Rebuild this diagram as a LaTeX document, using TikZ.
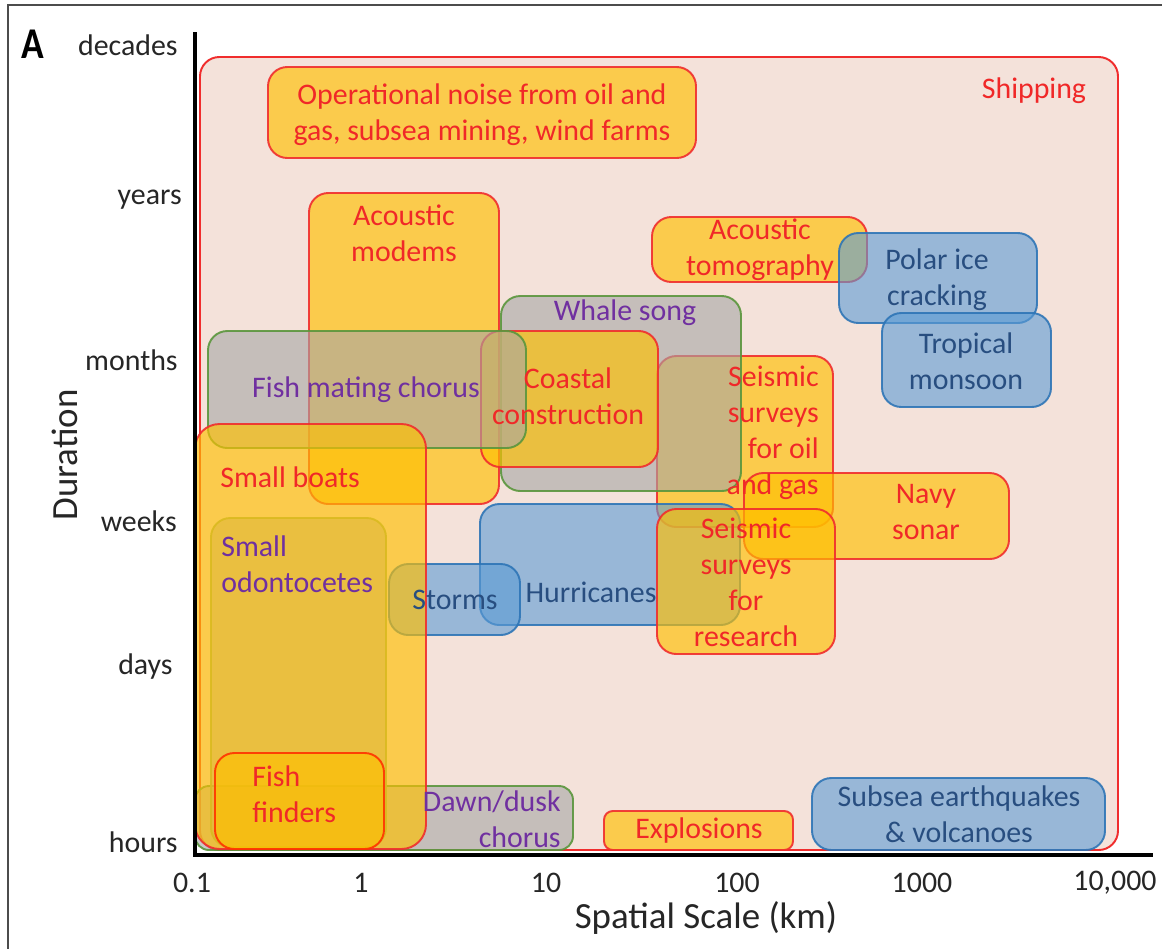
\documentclass[tikz,border=0pt]{standalone}
\usepackage{fontspec}
\setmainfont{Carlito}
\definecolor{pinkfill}{RGB}{244,226,218}
\definecolor{yel}{RGB}{255,192,0}
\definecolor{gry}{RGB}{166,166,166}
\definecolor{blu}{RGB}{91,155,213}
\definecolor{redline}{RGB}{240,45,45}
\definecolor{grnline}{RGB}{90,150,60}
\definecolor{oliveline}{RGB}{150,175,90}
\definecolor{bluline}{RGB}{46,117,182}
\definecolor{redtxt}{RGB}{240,40,40}
\definecolor{purptxt}{RGB}{112,48,160}
\definecolor{blutxt}{RGB}{40,78,128}
\definecolor{axtxt}{RGB}{38,38,38}
\begin{document}
\begin{tikzpicture}[x=0.02cm,y=-0.02cm,
  every node/.style={inner sep=0pt},
  shipbox/.style={draw=redline,line width=1.1pt,fill=pinkfill,rounded corners=11pt},
  ybox/.style={draw=redline,line width=1.1pt,draw opacity=0.9,fill=yel,fill opacity=0.65,rounded corners=11pt},
  gbox/.style={draw=grnline,line width=1.1pt,draw opacity=0.9,fill=gry,fill opacity=0.6,rounded corners=11pt},
  obox/.style={draw=oliveline,line width=1.1pt,draw opacity=0.9,fill=gry,fill opacity=0.6,rounded corners=11pt},
  bbox/.style={draw=bluline,line width=1.1pt,draw opacity=0.9,fill=blu,fill opacity=0.6,rounded corners=11pt},
  lbl/.style={font=\fontsize{17}{20.5}\selectfont,align=center},
  rt/.style={lbl,text=redtxt},
  pt/.style={lbl,text=purptxt},
  bt/.style={lbl,text=blutxt},
  axl/.style={font=\fontsize{17}{20.5}\selectfont,text=axtxt},
  axtitle/.style={font=\fontsize{21}{25}\selectfont,text=axtxt}]
\useasboundingbox (0,0) rectangle (1162,948);
\fill[white] (0,0) rectangle (1162,948);
% outer frame
\coordinate (fTL) at (8,5);
\coordinate (fTR) at (1170,5);
\coordinate (fBL) at (8,960);
\draw[black!70,line width=0.9pt] (fTR) -- (fTL) -- (fBL);

% ---------- boxes ----------
\draw[shipbox] (200,57) rectangle (1118,850);                 % Shipping
\draw[ybox] (268,67) rectangle (696,158);                     % Operational noise
\draw[ybox] (309,193) rectangle (499,504);                    % Acoustic modems
\draw[ybox] (657,356) rectangle (833,527);                    % Seismic oil & gas
\draw[gbox] (501,296) rectangle (741,491);                    % Whale song
\draw[ybox] (481,331) rectangle (658,467);                    % Coastal construction
\draw[gbox] (208,331) rectangle (526,448);                    % Fish mating chorus
\draw[ybox] (652,217) rectangle (867,282);                    % Acoustic tomography
\draw[bbox] (839,233) rectangle (1037,323);                   % Polar ice
\draw[bbox] (882,313) rectangle (1051,407);                   % Tropical monsoon
\draw[ybox] (744,473) rectangle (1009,559);                   % Navy sonar
\draw[bbox] (480,504) rectangle (740,625);                    % Hurricanes
\draw[ybox] (657,509) rectangle (835,654);                    % Seismic research
\draw[bbox] (389,564) rectangle (520,635);                    % Storms
\draw[gbox,rounded corners=8pt] (195,786) rectangle (573,850);% Dawn/dusk
\draw[obox] (211,518) rectangle (386,847);                    % Small odontocetes
\draw[ybox,rounded corners=14pt] (195,424) rectangle (426,849);% Small boats
\draw[ybox,draw=red!60!orange] (215,753) rectangle (384,849); % Fish finders
\draw[ybox,rounded corners=5pt] (604,811) rectangle (793,850);% Explosions
\draw[bbox] (812,778) rectangle (1105,850);                   % Subsea

% ---------- labels ----------
\node[rt] (ship) at (1034,91) {Shipping};
\node[rt] (oper) at (482,115) {Operational noise from oil and\\gas, subsea mining, wind farms};
\node[rt] (modem) at (404,233) {Acoustic\\modems};
\node[rt,anchor=east,align=right] (soil) at (819,433) {Seismic\\surveys\\for oil\\and gas};
\node[pt] (whale) at (625,313) {Whale song};
\node[rt] (coast) at (568,396) {Coastal\\construction};
\node[pt] (fmc) at (366,390) {Fish mating chorus};
\node[rt] (tomo) at (760,250) {Acoustic\\tomography};
\node[bt] (polar) at (937,280) {Polar ice\\cracking};
\node[bt] (trop) at (966,361) {Tropical\\monsoon};
\node[rt] (navy) at (926,512) {Navy\\sonar};
\node[bt] (hurr) at (591,592) {Hurricanes};
\node[rt] (sres) at (746,582) {Seismic\\surveys\\for\\research};
\node[bt] (storm) at (455,600) {Storms};
\node[pt,anchor=east,align=right] (dawn) at (561,819) {Dawn/dusk\\chorus};
\node[pt,anchor=west,align=left] (odon) at (221,564) {Small\\odontocetes};
\node[rt,anchor=west] (boats) at (220,477) {Small boats};
\node[rt,anchor=west,align=left] (ffind) at (252,794) {Fish\\finders};
\node[rt] (expl) at (699,831) {Explosions};
\node[bt] (subsea) at (959,814) {Subsea earthquakes\\\& volcanoes};

% ---------- axes ----------
\coordinate (ytop) at (195,32);
\coordinate (origin) at (195,855);
\coordinate (xend) at (1153,855);
\draw[black,line width=2.3pt] (ytop) -- (195,857);
\draw[black,line width=2.3pt] (193,855) -- (xend);

% y labels
\node[axl,anchor=east] (ydec) at (178,45) {decades};
\node[axl,anchor=east] (yyr) at (182,200) {years};
\node[axl,anchor=east] (ymon) at (178,360) {months};
\node[axl,anchor=east] (ywk) at (177,521) {weeks};
\node[axl,anchor=east] (yday) at (173,667) {days};
\node[axl,anchor=east] (yhr) at (178,842) {hours};
\node[axtitle,rotate=90] (ytitle) at (65,455) {Duration};

% x labels
\node[axl] (x01) at (192,883) {0.1};
\node[axl] (x1) at (361,883) {1};
\node[axl] (x10) at (546,883) {10};
\node[axl] (x100) at (737,883) {100};
\node[axl] (x1000) at (922,883) {1000};
\node[axl] (x10000) at (1115,883) {10,000};
\node[axtitle] (xtitle) at (706,918) {Spatial Scale (km)};

% panel letter
\node[font=\bfseries\fontsize{25}{28}\selectfont] (panelA) at (33,44) {\scalebox{0.85}[1]{A}};
\end{tikzpicture}
\end{document}
